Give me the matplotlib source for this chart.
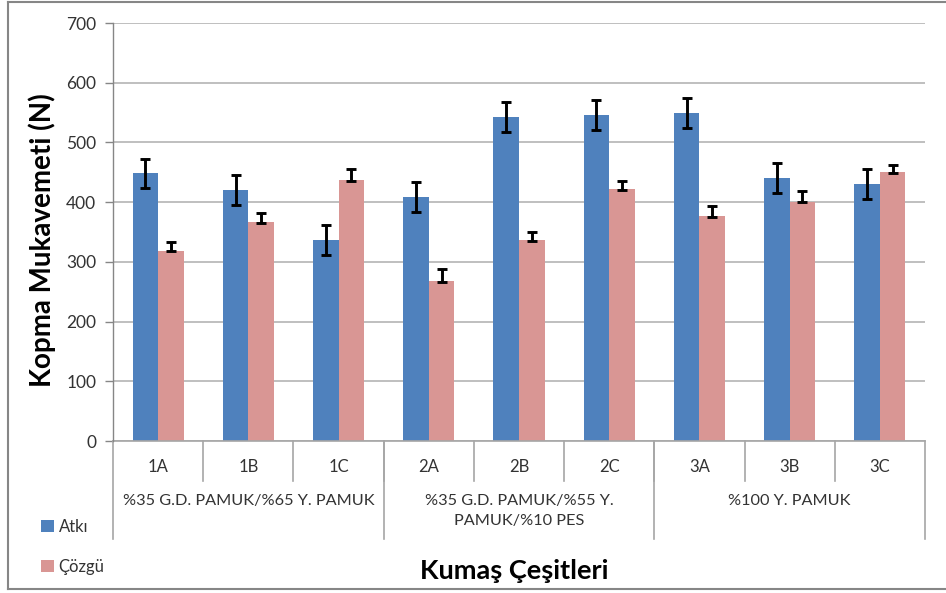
import matplotlib
matplotlib.use("Agg")
import matplotlib.pyplot as plt
from matplotlib.lines import Line2D
import numpy as np

plt.rcParams['font.family'] = ['Lato', 'DejaVu Sans']

# Data
categories = ['1A', '1B', '1C', '2A', '2B', '2C', '3A', '3B', '3C']
groups = ['%35 G.D. PAMUK/%65 Y. PAMUK',
          '%35 G.D. PAMUK/%55 Y.\nPAMUK/%10 PES',
          '%100 Y. PAMUK']
group_sizes = [3, 3, 3]

atki = [448, 421, 337, 408, 543, 546, 549, 441, 431]
atki_err = [25, 25, 25, 25, 25, 25, 25, 25, 25]
cozgu = [319, 366, 437, 268, 337, 422, 376, 401, 450]
cozgu_err_up = [15, 15, 18, 20, 13, 13, 17, 18, 13]
cozgu_err_down = [1.5, 1.5, 1.5, 1.5, 1.5, 1.5, 1.5, 1.5, 1.5]

series_names = ['Atkı', 'Çözgü']
colors = ['#4F81BD', '#D99694']
y_ticks = [0, 100, 200, 300, 400, 500, 600, 700]

W, H = 946, 593
fig = plt.figure(figsize=(W / 100, H / 100), dpi=100)
ax = fig.add_axes([113 / W, 1 - 441 / H, (925 - 113) / W, (441 - 23) / H])

x = np.arange(len(categories))
bw = 0.283
b1 = ax.bar(x - bw / 2, atki, bw, color=colors[0], zorder=2, label=series_names[0])
b2 = ax.bar(x + bw / 2, cozgu, bw, color=colors[1], zorder=2, label=series_names[1])
ax.errorbar(x - bw / 2, atki, yerr=atki_err, fmt='none', ecolor='black',
            elinewidth=2.1, capsize=3.3, capthick=2.1, zorder=3)
ax.errorbar(x + bw / 2, cozgu, yerr=[cozgu_err_down, cozgu_err_up], fmt='none',
            ecolor='black', elinewidth=2.1, capsize=3.3, capthick=2.1, zorder=3)

ax.set_xlim(-0.5, len(categories) - 0.5)
ax.set_ylim(0, 700)
ax.set_yticks(y_ticks)
ax.set_yticklabels([str(v) for v in y_ticks], fontsize=12.5, color='#333333')
ax.tick_params(axis='y', length=6, color='#868686', width=1, pad=6)
ax.yaxis.grid(True, color='#BFBFBF', linewidth=1.4, zorder=0)
ax.set_axisbelow(True)
for s in ['top', 'right', 'bottom']:
    ax.spines[s].set_visible(False)
ax.spines['left'].set_color('#868686')
ax.spines['left'].set_linewidth(1)
ax.set_xticks([])

# Category axis with two levels
tr = ax.get_xaxis_transform()
axh = 441 - 23
def yax(py):
    return (441 - py) / axh

line_kw = dict(color='#A6A6A6', linewidth=1.2, transform=tr, clip_on=False)
ax.add_line(Line2D([-0.5, len(categories) - 0.5], [0, 0], **line_kw))
for i, c in enumerate(categories):
    ax.text(i, yax(467), c, transform=tr, ha='center', va='center',
            fontsize=12, color='#333333')
for i in range(1, len(categories)):
    ax.add_line(Line2D([i - 0.5, i - 0.5], [0, yax(481)], **line_kw))

start = 0
bounds = [-0.5]
for g, n in zip(groups, group_sizes):
    mid = start + (n - 1) / 2
    ax.text(mid, yax(494), g, transform=tr, ha='center', va='top',
            fontsize=11.7, color='#333333', linespacing=1.5)
    start += n
    bounds.append(start - 0.5)
for b in bounds:
    ax.add_line(Line2D([b, b], [0, yax(539)], **line_kw))

# Axis titles
fig.text(514 / W, 1 - 571 / H, 'Kumaş Çeşitleri', ha='center', va='center',
         fontsize=19.5, fontweight='bold', color='black')
fig.text(42 / W, 1 - 240 / H, 'Kopma Mukavemeti (N)', ha='center', va='center',
         rotation=90, fontsize=20, fontweight='bold', color='black')

# Legend
fig.legend(handles=[b1, b2], labels=series_names, loc='center left',
           bbox_to_anchor=(26 / W, 1 - 547 / H), frameon=False, fontsize=12,
           handlelength=0.75, handleheight=0.75, handletextpad=0.3,
           labelspacing=1.45, labelcolor='#333333')

# Outer chart frame
frame_kw = dict(color='#868686', linewidth=1.5, transform=fig.transFigure)
fig.add_artist(Line2D([8 / W, 8 / W], [1 - 2 / H, 1 - 589 / H], **frame_kw))
fig.add_artist(Line2D([8 / W, 1], [1 - 2 / H, 1 - 2 / H], **frame_kw))
fig.add_artist(Line2D([8 / W, 1], [1 - 589 / H, 1 - 589 / H], **frame_kw))

fig.savefig('out.png', dpi=100)
